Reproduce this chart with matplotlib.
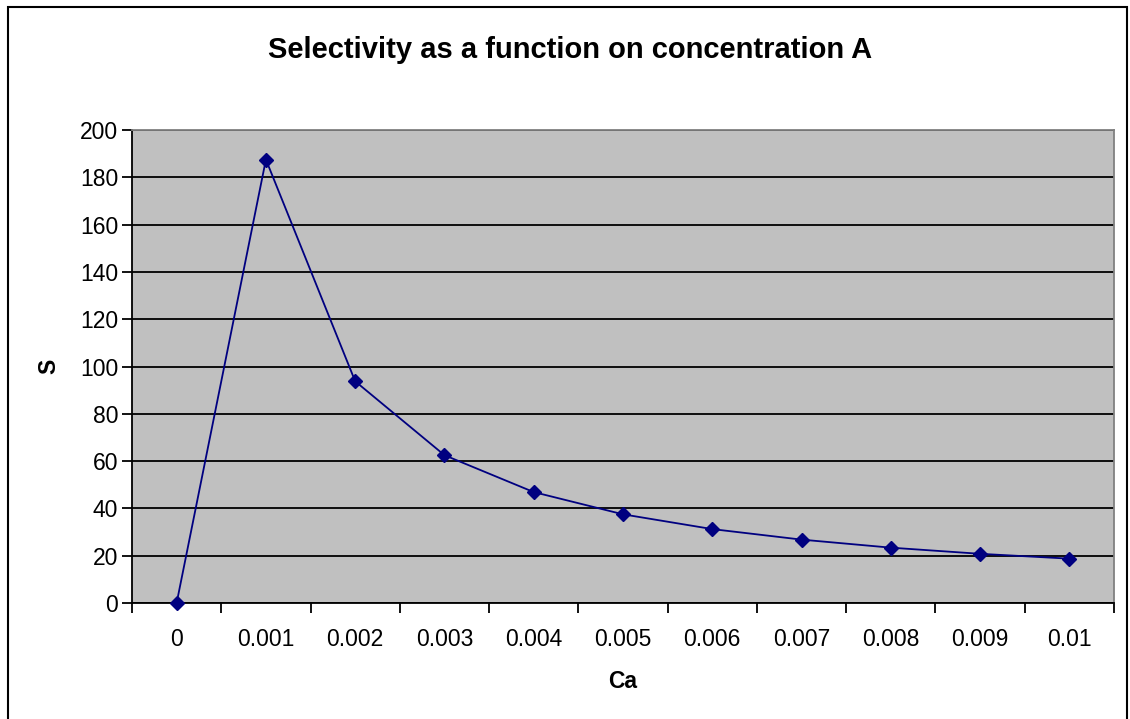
import matplotlib.pyplot as plt
import numpy as np
from matplotlib.patches import Rectangle

# data
ca_labels = ["0", "0.001", "0.002", "0.003", "0.004", "0.005",
             "0.006", "0.007", "0.008", "0.009", "0.01"]
s_values = [0, 187.5, 93.75, 62.5, 46.9, 37.5, 31.25, 26.8, 23.4, 20.8, 18.75]

plt.rcParams["font.family"] = ["Liberation Sans", "DejaVu Sans"]

fig = plt.figure(figsize=(11.30, 7.19), dpi=100)
ax = fig.add_axes([132 / 1130, 116 / 719, 982 / 1130, 473 / 719])

# outer chart frame
fig.patches.append(Rectangle((8 / 1130, -0.02), 1119 / 1130, 1 - 7 / 719 + 0.02,
                             transform=fig.transFigure, fill=False,
                             edgecolor="black", linewidth=1.5))

x = np.arange(len(ca_labels))
ax.set_facecolor("#C0C0C0")
ax.plot(x, s_values, color="#000080", linewidth=1.3, marker="D",
        markersize=7, markerfacecolor="#000080", markeredgecolor="#000080",
        zorder=3, clip_on=False)

ax.set_xlim(-0.5, len(ca_labels) - 0.5)
ax.set_ylim(0, 200)
ax.set_yticks(np.arange(0, 201, 20))
ax.grid(axis="y", color="black", linewidth=1.3)
ax.set_axisbelow(True)

ax.set_xticks(x)
ax.set_xticklabels(ca_labels)
ax.set_xticks(np.arange(-0.5, len(ca_labels), 1), minor=True)
ax.tick_params(axis="x", which="major", length=0, pad=18, labelsize=16.5)
ax.tick_params(axis="x", which="minor", length=7, width=1.3, direction="out")
ax.tick_params(axis="y", length=7, width=1.3, direction="out", labelsize=16.5,
               pad=3)

for side in ("top", "right"):
    ax.spines[side].set_color("#808080")
    ax.spines[side].set_linewidth(1.3)
for side in ("left", "bottom"):
    ax.spines[side].set_color("black")
    ax.spines[side].set_linewidth(1.3)

ax.set_xlabel("Ca", fontsize=16.5, fontweight="bold", labelpad=14)
ax.set_ylabel("S", fontsize=16.5, fontweight="bold", labelpad=14)
fig.text(570 / 1130, 1 - 50 / 719, "Selectivity as a function on concentration A",
         ha="center", va="center", fontsize=21, fontweight="bold")

fig.savefig("out.png", dpi=100)
